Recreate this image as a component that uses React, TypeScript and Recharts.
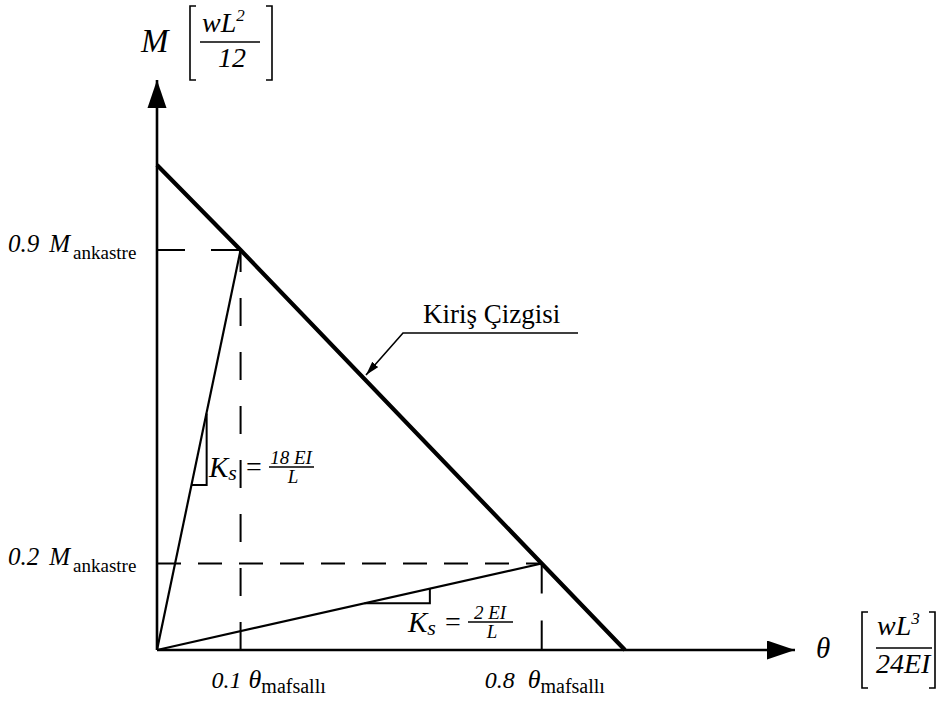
import React from 'react';
import { LineChart, Line, XAxis, YAxis } from 'recharts';

// M in wL²/12, θ in wL³/24EI
const beamTheta = [0, 0.1, 0.8, 1];
const beamMoment = [1, 0.9, 0.2, 0];

const stiffTheta = [0, 0.1];
const stiffMoment = [0, 0.9];
const softTheta = [0, 0.8];
const softMoment = [0, 0.2];

// dashed guides to the two operating points
const guideHighH = { t: [0, 0.1], m: [0.9, 0.9] };
const guideHighV = { t: [0.1, 0.1], m: [0, 0.9] };
const guideLowH = { t: [0, 0.8], m: [0.2, 0.2] };
const guideLowV = { t: [0.8, 0.8], m: [0.2, 0] };

// slope markers on the two spring lines
const slopeHighTheta = [0.0413, 0.0594, 0.0594];
const slopeHighMoment = [0.375, 0.375, 0.535];
const slopeLowTheta = [0.388, 0.54, 0.54];
const slopeLowMoment = [0.108, 0.108, 0.142];

const thetaTicks = [0.1, 0.8];
const momentTicks = [0.2, 0.9];
const thetaTickText: Record<number, string> = { 0.1: '0.1', 0.8: '0.8' };
const momentTickText: Record<number, string> = { 0.2: '0.2', 0.9: '0.9' };

const rows = (t: number[], m: number[]) => t.map((v, i) => ({ t: v, m: m[i] }));

const SERIF = { fontFamily: 'Liberation Serif, DejaVu Serif, serif' };
const INK = '#000';

// schematic (not to scale) axes: piecewise-linear mapping between knots
function warpScale(knots: number[], stops: number[]): any {
  let dom = [knots[0], knots[knots.length - 1]];
  let rng = [0, 1];
  const frac = (v: number) => {
    let i = 0;
    while (i < knots.length - 2 && v > knots[i + 1]) i++;
    const k0 = knots[i];
    const k1 = knots[i + 1];
    return stops[i] + ((v - k0) / (k1 - k0)) * (stops[i + 1] - stops[i]);
  };
  const scale: any = (v: number) => rng[0] + (rng[rng.length - 1] - rng[0]) * frac(v);
  scale.domain = (d?: number[]) => {
    if (!d) return dom.slice();
    dom = d.slice();
    return scale;
  };
  scale.range = (r?: number[]) => {
    if (!r) return rng.slice();
    rng = r.slice();
    return scale;
  };
  scale.copy = () => warpScale(knots, stops).domain(dom).range(rng);
  scale.ticks = () => knots.slice();
  return scale;
}

const thetaScale = warpScale([0, 0.1, 0.8, 1, 1.41], [0, 0.131, 0.603, 0.7335, 1]);
const momentScale = warpScale([0, 0.2, 0.9, 1, 1.1], [0, 0.1518, 0.7018, 0.8509, 1]);

// label offsets from the tick, and gap before θ
const thetaTickShift: Record<number, number> = { 0.1: -29, 0.8: -57 };
const thetaGap: Record<number, number> = { 0.1: 7, 0.8: 13 };

function ThetaTick(props: any) {
  const { x, y, payload } = props;
  const v = payload.value;
  return (
    <text x={x + (thetaTickShift[v] ?? -30)} y={y + 38} style={SERIF} fill={INK}>
      <tspan fontStyle="italic" fontSize={24}>{thetaTickText[v]}</tspan>
      <tspan fontStyle="italic" fontSize={26} dx={thetaGap[v] ?? 8}>θ</tspan>
      <tspan fontSize={20} dy={5}>mafsallı</tspan>
    </text>
  );
}

function MomentTick(props: any) {
  const { x, y, payload } = props;
  const v = payload.value;
  return (
    <text x={x - 149} y={y + 2} style={SERIF} fill={INK}>
      <tspan fontStyle="italic" fontSize={25}>{momentTickText[v]}</tspan>
      <tspan fontStyle="italic" fontSize={25} dx={10}>M</tspan>
      <tspan fontSize={19} dx={3} dy={7}>ankastre</tspan>
    </text>
  );
}

function Bracket({ x, y1, y2, dir }: { x: number; y1: number; y2: number; dir: 1 | -1 }) {
  const d = `M${x + dir * 6},${y1} L${x},${y1} L${x},${y2} L${x + dir * 6},${y2}`;
  return <path d={d} fill="none" stroke={INK} strokeWidth={1.6} />;
}

function StiffnessLabel({ x, y, num }: { x: number; y: number; num: string }) {
  // y is the baseline of K
  return (
    <g style={SERIF} fill={INK}>
      <text x={x} y={y} fontSize={29} fontStyle="italic">
        K<tspan fontSize={22} dy={3}>s</tspan>
      </text>
      <text x={x + 37} y={y - 1} fontSize={28}>=</text>
      <text x={x + 82} y={y - 13} fontSize={19} fontStyle="italic" textAnchor="middle">{num}</text>
      <line x1={x + 60} x2={x + 105} y1={y - 10} y2={y - 10} stroke={INK} strokeWidth={1.4} />
      <text x={x + 84} y={y + 6} fontSize={19} fontStyle="italic" textAnchor="middle">L</text>
    </g>
  );
}

function Annotations() {
  return (
    <g>
      {/* M [wL²/12] */}
      <g style={SERIF} fill={INK} fontStyle="italic">
        <text x={141} y={52} fontSize={33}>M</text>
        <text x={202} y={32} fontSize={28}>
          wL<tspan fontSize={17} dy={-11}>2</tspan>
        </text>
        <text x={232} y={67} fontSize={28} textAnchor="middle">12</text>
      </g>
      <line x1={200} x2={260} y1={42} y2={42} stroke={INK} strokeWidth={1.5} />
      <Bracket x={190} y1={6} y2={80} dir={1} />
      <Bracket x={272} y1={6} y2={80} dir={-1} />

      {/* θ [wL³/24EI] */}
      <g style={SERIF} fill={INK} fontStyle="italic">
        <text x={816} y={658} fontSize={29}>θ</text>
        <text x={877} y={635} fontSize={28}>
          wL<tspan fontSize={17} dy={-11}>3</tspan>
        </text>
        <text x={876} y={673} fontSize={28}>24EI</text>
      </g>
      <line x1={876} x2={932} y1={648} y2={648} stroke={INK} strokeWidth={1.5} />
      <Bracket x={862} y1={612} y2={688} dir={1} />
      <Bracket x={935} y1={612} y2={688} dir={-1} />

      {/* beam line callout */}
      <text x={423} y={323} fontSize={27} style={SERIF} fill={INK}>Kiriş Çizgisi</text>
      <path d="M578,333 L403,333 L366,375" fill="none" stroke={INK} strokeWidth={1.6} markerEnd="url(#leaderHead)" />

      <StiffnessLabel x={209} y={477} num="18 EI" />
      <StiffnessLabel x={408} y={632} num="2 EI" />
    </g>
  );
}

export default function App() {
  return (
    <div style={{ position: 'absolute', left: 0, top: 0, background: '#fff' }}>
      <LineChart width={944} height={704} margin={{ top: 80, right: 149, bottom: 0, left: 0 }}>
        <defs>
          <marker id="axisHeadEnd" markerUnits="userSpaceOnUse" markerWidth={30} markerHeight={20} refX={28} refY={9.5} orient="auto">
            <path d="M0,0 L28,9.5 L0,19 Z" fill={INK} />
          </marker>
          <marker id="axisHeadStart" markerUnits="userSpaceOnUse" markerWidth={30} markerHeight={20} refX={0} refY={9.5} orient="auto">
            <path d="M0,9.5 L28,0 L28,19 Z" fill={INK} />
          </marker>
          <marker id="leaderHead" markerUnits="userSpaceOnUse" markerWidth={16} markerHeight={10} refX={14} refY={4} orient="auto">
            <path d="M0,0 L14,4 L0,8 Z" fill={INK} />
          </marker>
        </defs>

        <XAxis
          type="number"
          dataKey="t"
          domain={[0, 1.41]}
          scale={thetaScale}
          ticks={thetaTicks}
          interval={0}
          tick={<ThetaTick />}
          tickLine={false}
          tickSize={0}
          tickMargin={0}
          height={54}
          axisLine={{ stroke: INK, strokeWidth: 2.6, markerEnd: 'url(#axisHeadEnd)' }}
        />
        <YAxis
          type="number"
          dataKey="m"
          domain={[0, 1.1]}
          scale={momentScale}
          ticks={momentTicks}
          interval={0}
          tick={<MomentTick />}
          tickLine={false}
          tickSize={0}
          tickMargin={0}
          width={157}
          axisLine={{ stroke: INK, strokeWidth: 2.6, markerStart: 'url(#axisHeadStart)' }}
        />

        <Line data={rows(guideHighH.t, guideHighH.m)} dataKey="m" stroke={INK} strokeWidth={2} strokeDasharray="28 26" dot={false} activeDot={false} isAnimationActive={false} />
        <Line data={rows(guideHighV.t, guideHighV.m)} dataKey="m" stroke={INK} strokeWidth={2} strokeDasharray="28 26" dot={false} activeDot={false} isAnimationActive={false} />
        <Line data={rows(guideLowH.t, guideLowH.m)} dataKey="m" stroke={INK} strokeWidth={2} strokeDasharray="24 17" dot={false} activeDot={false} isAnimationActive={false} />
        <Line data={rows(guideLowV.t, guideLowV.m)} dataKey="m" stroke={INK} strokeWidth={2} strokeDasharray="30 27" dot={false} activeDot={false} isAnimationActive={false} />

        <Line data={rows(slopeHighTheta, slopeHighMoment)} dataKey="m" stroke={INK} strokeWidth={2} dot={false} activeDot={false} isAnimationActive={false} />
        <Line data={rows(slopeLowTheta, slopeLowMoment)} dataKey="m" stroke={INK} strokeWidth={2} dot={false} activeDot={false} isAnimationActive={false} />

        <Line data={rows(stiffTheta, stiffMoment)} dataKey="m" stroke={INK} strokeWidth={2.2} dot={false} activeDot={false} isAnimationActive={false} />
        <Line data={rows(softTheta, softMoment)} dataKey="m" stroke={INK} strokeWidth={2.2} dot={false} activeDot={false} isAnimationActive={false} />
        <Line data={rows(beamTheta, beamMoment)} dataKey="m" stroke={INK} strokeWidth={4.2} dot={false} activeDot={false} isAnimationActive={false} />

        <Annotations />
      </LineChart>
    </div>
  );
}
